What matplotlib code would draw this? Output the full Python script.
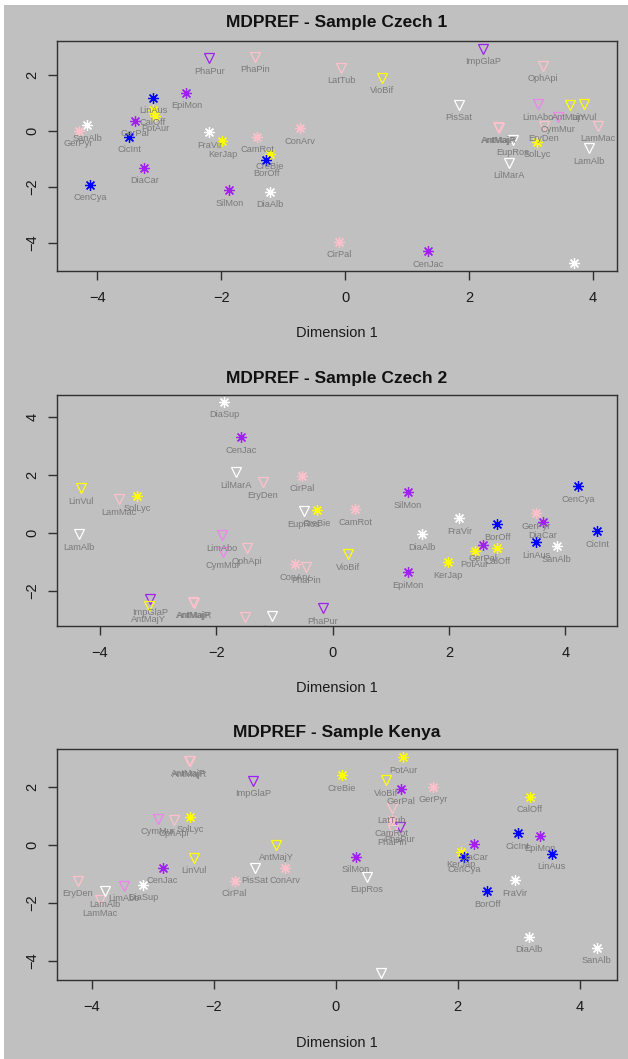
import matplotlib
matplotlib.use("Agg")
import matplotlib.pyplot as plt
import matplotlib.transforms as mtransforms
from matplotlib.patches import Rectangle

plt.rcParams['font.family'] = ['Liberation Sans', 'DejaVu Sans']

# ---------------- data ----------------
species = ["SanAlb", "GerPyr", "LinAus", "CalOff", "PotAur", "GerPal", "CicInt", "EpiMon",
           "FraVir", "KerJap", "CamRot", "ConArv", "CreBie", "BorOff", "DiaCar", "CenCya",
           "SilMon", "DiaAlb", "CirPal", "CenJac", "DiaSup", "SolLyc",
           "PhaPur", "PhaPin", "LatTub", "VioBif", "ImpGlaP", "OphApi", "PisSat", "LimAbo",
           "AntMajY", "LinVul", "CymMur", "EryDen", "LamMac", "LamAlb", "EupRos", "LilMarA",
           "AntMajP", "AntMajR"]

# flower colour group of each species
flower_colour = ["white", "pink", "blue", "yellow", "yellow", "purple", "blue", "purple",
                 "white", "yellow", "pink", "pink", "yellow", "blue", "purple", "blue",
                 "purple", "white", "pink", "purple", "white", "yellow",
                 "purple", "pink", "pink", "yellow", "purple", "pink", "white", "violet",
                 "yellow", "yellow", "violet", "pink", "pink", "white", "white", "white",
                 "pink", "pink"]

# group: "A" = asterisk symbol, "T" = triangle symbol
symbol_group = ["A"] * 22 + ["T"] * 18

czech1_x = [-4.16, -4.30, -3.10, -3.10, -3.06, -3.39, -3.48, -2.56,
            -2.19, -1.98, -1.42, -0.73, -1.21, -1.27, -3.24, -4.11,
            -1.87, -1.21, -0.10, 1.34, 3.69, 3.10,
            -2.19, -1.45, -0.06, 0.60, 2.23, 3.19, 1.84, 3.11,
            3.63, 3.85, 3.44, 3.21, 4.08, 3.94, 2.71, 2.65,
            2.47, 2.49]
czech1_y = [0.21, 0.00, 1.18, 0.75, 0.55, 0.36, -0.21, 1.36,
            -0.04, -0.36, -0.20, 0.10, -0.82, -1.04, -1.32, -1.93,
            -2.11, -2.18, -3.96, -4.29, -4.71, -0.39,
            2.60, 2.64, 2.25, 1.89, 2.93, 2.32, 0.93, 0.96,
            0.93, 0.96, 0.50, 0.18, 0.18, -0.61, -0.32, -1.14,
            0.14, 0.12]

czech2_x = [3.85, 3.50, 3.50, 2.83, 2.44, 2.58, 4.55, 1.30,
            2.18, 1.99, 0.39, -0.64, -0.27, 2.83, 3.62, 4.22,
            1.29, 1.53, -0.52, -1.58, -1.87, -3.36,
            -0.17, -0.45, -1.51, 0.27, -3.14, -1.48, -1.05, -1.91,
            -3.16, -4.33, -1.89, -1.20, -3.67, -4.36, -0.50, -1.67,
            -2.40, -2.38]
czech2_y = [-0.45, 0.69, -0.31, -0.52, -0.62, -0.41, 0.07, -1.34,
            0.52, -1.00, 0.83, -1.07, 0.79, 0.31, 0.38, 1.62,
            1.41, -0.03, 1.97, 3.31, 4.52, 1.28,
            -2.59, -1.17, -2.90, -0.72, -2.28, -0.52, -2.86, -0.07,
            -2.52, 1.55, -0.66, 1.76, 1.17, -0.03, 0.76, 2.10,
            -2.38, -2.40]

kenya_x = [4.28, 1.59, 3.54, 3.18, 1.10, 1.07, 2.98, 3.34,
           2.93, 2.05, 0.92, -0.84, 0.10, 2.48, 2.26, 2.10,
           0.33, 3.16, -1.66, -2.84, -3.16, -2.39,
           1.05, 0.93, 0.92, 0.82, -1.36, -2.66, -1.33, -3.47,
           -0.98, -2.33, -2.92, -4.23, -3.87, -3.79, 0.51, 0.74,
           -2.41, -2.39]
kenya_y = [-3.55, 2.00, -0.31, 1.66, 3.03, 1.93, 0.41, 0.31,
           -1.21, -0.24, 0.86, -0.79, 2.41, -1.59, 0.03, -0.41,
           -0.41, -3.17, -1.24, -0.79, -1.38, 0.97,
           0.62, 0.52, 1.28, 2.24, 2.21, 0.86, -0.79, -1.41,
           0.00, -0.45, 0.90, -1.24, -1.90, -1.59, -1.10, -4.41,
           2.90, 2.88]

titles = ["MDPREF - Sample Czech 1", "MDPREF - Sample Czech 2", "MDPREF - Sample Kenya"]
x_ticks = [-4, -2, 0, 2, 4]

# ---------------- styling ----------------
W, H = 628, 1059
DPI = 100
BG = "#c0c0c0"
colour_map = {"white": "#ffffff", "pink": "#ffc0cb", "blue": "#0000ff",
              "yellow": "#ffff00", "purple": "#a020f0", "violet": "#ee82ee"}

fig = plt.figure(figsize=(W / DPI, H / DPI), dpi=DPI, facecolor="white")
fig.patches.append(Rectangle((4 / W, 0), 1 - 4 / W, 1 - 5 / H, transform=fig.transFigure,
                             facecolor=BG, edgecolor="none", zorder=-10))

panels = [
    dict(x=czech1_x, y=czech1_y, top=41, bot=271, xlim=(-4.65, 4.39), ylim=(-5.0, 3.21),
         yticks=[-4, -2, 0, 2], title_y=23, xlabel_y=333),
    dict(x=czech2_x, y=czech2_y, top=395, bot=626, xlim=(-4.74, 4.89), ylim=(-3.2, 4.76),
         yticks=[-2, 0, 2, 4], title_y=378, xlabel_y=688),
    dict(x=kenya_x, y=kenya_y, top=749, bot=980, xlim=(-4.57, 4.61), ylim=(-4.66, 3.31),
         yticks=[-4, -2, 0, 2], title_y=732, xlabel_y=1043),
]

L, R = 57, 617
for p, title in zip(panels, titles):
    ax = fig.add_axes([L / W, (H - p["bot"]) / H, (R - L) / W, (p["bot"] - p["top"]) / H])
    ax.set_facecolor(BG)
    ax.set_xlim(*p["xlim"])
    ax.set_ylim(*p["ylim"])
    for s in ax.spines.values():
        s.set_color("#303030")
        s.set_linewidth(1.0)
    ax.set_xticks(x_ticks)
    ax.set_yticks(p["yticks"])
    ax.tick_params(axis="x", direction="out", length=6.5, width=1.0, color="#303030",
                   labelsize=10.5, labelcolor="#1a1a1a", pad=8)
    ax.tick_params(axis="y", direction="out", length=6.5, width=1.0, color="#303030",
                   labelsize=10.5, labelcolor="#1a1a1a", pad=6)
    for lab in ax.get_yticklabels():
        lab.set_rotation(90)
        lab.set_va("center")

    label_tr = mtransforms.offset_copy(ax.transData, fig=fig, x=0, y=-13, units="dots")
    for name, col, grp, xv, yv in zip(species, flower_colour, symbol_group, p["x"], p["y"]):
        c = colour_map[col]
        if grp == "A":
            ax.plot([xv], [yv], linestyle="none", marker=(8, 2, 0), markersize=7.8,
                    markeredgewidth=0.9, color=c, zorder=3)
        else:
            ax.plot([xv], [yv], linestyle="none", marker="v", markersize=7.0,
                    markerfacecolor="none", markeredgewidth=0.9, markeredgecolor=c, zorder=3)
        ax.text(xv, yv, name, transform=label_tr, ha="center", va="center",
                fontsize=6.7, color="#7a7a7a", clip_on=True, zorder=4)

    fig.text((L + R) / 2 / W, 1 - p["title_y"] / H, title, ha="center", va="center",
             fontsize=12.5, fontweight="bold", color="#111111")
    fig.text((L + R) / 2 / W, 1 - p["xlabel_y"] / H, "Dimension 1", ha="center",
             va="center", fontsize=10.5, color="#1a1a1a")

fig.savefig("out.png", dpi=DPI, facecolor=fig.get_facecolor())
